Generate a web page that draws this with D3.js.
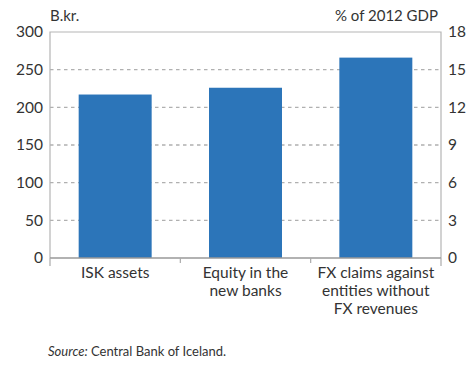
<!DOCTYPE html>
<html>
<head>
<meta charset="utf-8">
<script src="https://cdn.jsdelivr.net/npm/d3@7/dist/d3.min.js"></script>
<style>
  body { margin: 0; background: #fff; }
  svg { display: block; }
  text { font-family: Lato, "Open Sans", sans-serif; fill: #333; }
</style>
</head>
<body>
<svg id="chart" width="470" height="365"></svg>
<script>
// Categories (multi-line labels) and values in billions of krónur
const categories = ["ISK assets", "Equity in the new banks", "FX claims against entities without FX revenues"];
const categoryLines = [["ISK assets"], ["Equity in the", "new banks"], ["FX claims against", "entities without", "FX revenues"]];
const values = [217, 226, 266];
const leftTicks = [0, 50, 100, 150, 200, 250, 300];
const rightTicks = [0, 3, 6, 9, 12, 15, 18];

const svg = d3.select("#chart");
const margin = { left: 50, right: 29, top: 32, bottom: 107 };
const W = 470, H = 365;
const x0 = margin.left, x1 = W - margin.right;
const y0 = H - margin.bottom, y1 = margin.top;

const x = d3.scaleBand().domain(categories).range([x0, x1]).paddingInner(0.44).paddingOuter(0.22);
const y = d3.scaleLinear().domain([0, 300]).range([y0, y1]);
const yR = d3.scaleLinear().domain([0, 18]).range([y0, y1]);

// dashed gridlines
svg.append("g").selectAll("line")
  .data(leftTicks.filter(t => t > 0 && t < 300))
  .join("line")
  .attr("x1", x0).attr("x2", x1)
  .attr("y1", d => y(d)).attr("y2", d => y(d))
  .attr("stroke", "#b0b0b0").attr("stroke-width", 1.4)
  .attr("stroke-dasharray", "3.5,3.5");

// bars
svg.append("g").selectAll("rect")
  .data(values)
  .join("rect")
  .attr("x", (d, i) => x(categories[i]))
  .attr("width", x.bandwidth())
  .attr("y", d => y(d))
  .attr("height", d => y(0) - y(d))
  .attr("fill", "#2c75b9");

// frame (left, top, right)
svg.append("path")
  .attr("d", `M${x0},${y0}V${y1}H${x1}V${y0}`)
  .attr("fill", "none").attr("stroke", "#b5b5b5").attr("stroke-width", 1.2);

// bottom axis with ticks at category boundaries
const bottom = svg.append("g");
bottom.append("line")
  .attr("x1", x0).attr("x2", x1).attr("y1", y0).attr("y2", y0)
  .attr("stroke", "#999").attr("stroke-width", 1.5);
const step = (x1 - x0) / categories.length;
bottom.selectAll("line.tick")
  .data(d3.range(categories.length + 1))
  .join("line")
  .attr("class", "tick")
  .attr("x1", i => x0 + i * step).attr("x2", i => x0 + i * step)
  .attr("y1", y0).attr("y2", i => (i === 0 || i === categories.length) ? y0 + 8 : y0 + 5)
  .attr("stroke", "#aaa").attr("stroke-width", 1.2);

// category labels
categoryLines.forEach((lines, i) => {
  const cx = x0 + (i + 0.5) * step;
  const t = svg.append("text")
    .attr("text-anchor", "middle")
    .attr("font-size", 15.5)
    .attr("y", y0 + 19.5);
  lines.forEach((ln, k) => {
    t.append("tspan").attr("x", cx).attr("dy", k === 0 ? 0 : 18.3).text(ln);
  });
});

// left tick labels
svg.append("g").selectAll("text")
  .data(leftTicks)
  .join("text")
  .attr("x", 43).attr("y", d => y(d))
  .attr("dy", "0.35em")
  .attr("text-anchor", "end")
  .attr("font-size", 15.5)
  .text(d => d);

// right tick labels
svg.append("g").selectAll("text")
  .data(rightTicks)
  .join("text")
  .attr("x", 448).attr("y", d => yR(d))
  .attr("dy", "0.35em")
  .attr("text-anchor", "start")
  .attr("font-size", 15.5)
  .text(d => d);

// unit labels
svg.append("text").attr("x", 50).attr("y", 21).attr("font-size", 15).text("B.kr.");
svg.append("text").attr("x", 438).attr("y", 21).attr("text-anchor", "end").attr("font-size", 15).text("% of 2012 GDP");

// source note
const src = svg.append("text").attr("x", 48).attr("y", 356).attr("font-size", 13);
src.append("tspan").attr("font-style", "italic").text("Source:");
src.append("tspan").text(" Central Bank of Iceland.");
</script>
</body>
</html>
